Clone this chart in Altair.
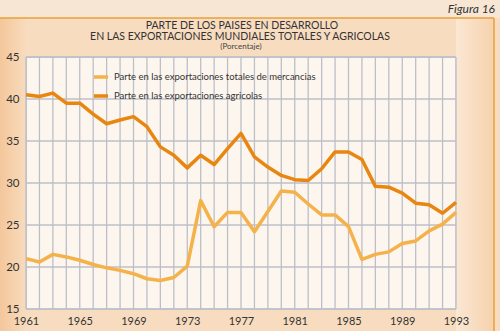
import altair as alt
import pandas as pd

years = list(range(1961, 1994))
agricolas = [40.5, 40.3, 40.7, 39.5, 39.5, 38.2, 37.05, 37.5, 37.9, 36.7, 34.3, 33.3, 31.8,
             33.3, 32.2, 34.1, 35.9, 33.1, 31.9, 30.9, 30.4, 30.3, 31.7, 33.7, 33.7, 32.8,
             29.6, 29.5, 28.8, 27.6, 27.4, 26.4, 27.7]
totales = [21.0, 20.6, 21.5, 21.2, 20.8, 20.3, 19.9, 19.6, 19.2, 18.6, 18.4, 18.75, 20.1,
           27.9, 24.8, 26.5, 26.5, 24.2, 26.6, 29.05, 28.9, 27.5, 26.2, 26.2, 24.8, 20.9,
           21.5, 21.8, 22.8, 23.1, 24.3, 25.1, 26.5]
series_names = ["Parte en las exportaciones totales de mercancias",
                "Parte en las exportaciones agricolas"]
series_colors = ["#f5b24a", "#e8860f"]
y_ticks = [15, 20, 25, 30, 35, 40, 45]
title_lines = ["PARTE DE LOS PAISES EN DESARROLLO",
               "EN LAS EXPORTACIONES MUNDIALES TOTALES Y AGRICOLAS"]
subtitle = "(Porcentaje)"
figure_label = "Figura 16"

df = pd.DataFrame({
    "year": years * 2,
    "value": totales + agricolas,
    "serie": [series_names[0]] * len(years) + [series_names[1]] * len(years),
})

FONT = "Lato"
GRID = "#bcbfc8"
W, H = 430, 252
one = pd.DataFrame({"a": [0]})
xscale = alt.Scale(domain=[1961, 1993], nice=False, zero=False)
yscale = alt.Scale(domain=[15, 45], nice=False, zero=False)
x_axis = alt.Axis(values=years, title=None, ticks=False, domain=False, grid=False,
                  labelExpr="(datum.value - 1961) % 4 == 0 ? datum.label : ''",
                  format="d", labelFontSize=11, labelColor="#333333",
                  labelPadding=6, labelFont=FONT, labelFlush=False, zindex=1)
y_axis = alt.Axis(values=y_ticks, title=None, ticks=False, domain=False, grid=False,
                  labelFontSize=11.5, labelColor="#333333", labelPadding=7,
                  labelFont=FONT, zindex=1)

top_band = alt.Chart(one).mark_rect(color="#f7e6d3").encode(
    x=alt.value(-26), x2=alt.value(W + 44), y=alt.value(-57), y2=alt.value(-39))
left_band = alt.Chart(one).mark_rect(
    fill=alt.Gradient(gradient="linear", x1=0, x2=1, y1=0, y2=0,
                      stops=[alt.GradientStop(color="#f4c79b", offset=0),
                             alt.GradientStop(color="#f8dbbd", offset=1)])
).encode(x=alt.value(-26), x2=alt.value(0), y=alt.value(-39), y2=alt.value(H + 22))
right_band = alt.Chart(one).mark_rect(
    fill=alt.Gradient(gradient="linear", x1=0, x2=1, y1=0, y2=0,
                      stops=[alt.GradientStop(color="#fbe7d3", offset=0),
                             alt.GradientStop(color="#f6d2ad", offset=1)])
).encode(x=alt.value(W), x2=alt.value(468), y=alt.value(-39), y2=alt.value(H + 22))

frame_top = alt.Chart(one).mark_rule(color="#e9a03a", strokeWidth=1.5).encode(
    x=alt.value(-26), x2=alt.value(468), y=alt.value(-39))
frame_right = alt.Chart(one).mark_rule(color="#e9a03a", strokeWidth=1.5).encode(
    x=alt.value(468), y=alt.value(-39), y2=alt.value(H + 22))

figura = alt.Chart(pd.DataFrame({"t": [figure_label]})).mark_text(
    font=FONT, fontStyle="italic", fontSize=12, color="#333333", align="right", baseline="middle"
).encode(x=alt.value(469), y=alt.value(-48), text="t:N")

t1 = alt.Chart(pd.DataFrame({"t": [title_lines[0]]})).mark_text(
    font=FONT, fontSize=10.5, color="#333333", align="center", baseline="middle"
).encode(x=alt.value(W / 2 + 1), y=alt.value(-31), text="t:N")
t2 = alt.Chart(pd.DataFrame({"t": [title_lines[1]]})).mark_text(
    font=FONT, fontSize=10.5, color="#333333", align="center", baseline="middle"
).encode(x=alt.value(W / 2 - 1), y=alt.value(-20.5), text="t:N")
t3 = alt.Chart(pd.DataFrame({"t": [subtitle]})).mark_text(
    font=FONT, fontSize=8, color="#444444", align="center", baseline="middle"
).encode(x=alt.value(W / 2), y=alt.value(-10), text="t:N")

vgrid = alt.Chart(pd.DataFrame({"year": years})).mark_rule(color=GRID, strokeWidth=1.3).encode(
    x=alt.X("year:Q", scale=xscale, axis=x_axis))
hgrid = alt.Chart(pd.DataFrame({"value": y_ticks})).mark_rule(color=GRID, strokeWidth=1.3).encode(
    y=alt.Y("value:Q", scale=yscale, axis=y_axis))

lines = alt.Chart(df).mark_line(strokeWidth=3.5, strokeJoin="round").encode(
    x=alt.X("year:Q", scale=xscale, axis=x_axis),
    y=alt.Y("value:Q", scale=yscale, axis=y_axis),
    color=alt.Color("serie:N",
                    scale=alt.Scale(domain=series_names, range=series_colors),
                    legend=alt.Legend(title=None, orient="none", legendX=66, legendY=11,
                                      symbolType="stroke", symbolSize=196,
                                      symbolStrokeWidth=3.5, labelFontSize=9.5,
                                      labelFont=FONT, labelColor="#333333",
                                      rowPadding=3, labelLimit=400, padding=0)),
)

chart = alt.layer(top_band, left_band, right_band, frame_top, frame_right,
                  t1, t2, t3, figura, vgrid, hgrid, lines).properties(
    width=W, height=H,
    padding={"left": 26, "top": 57, "right": 44, "bottom": 22},
    autosize=alt.AutoSizeParams(type="none"),
    background="#f8dcc0",
).configure_view(fill="#fdf6ee", stroke=GRID, strokeWidth=1.3)

chart.save("out.html", embed_options={"renderer": "svg", "actions": False})
